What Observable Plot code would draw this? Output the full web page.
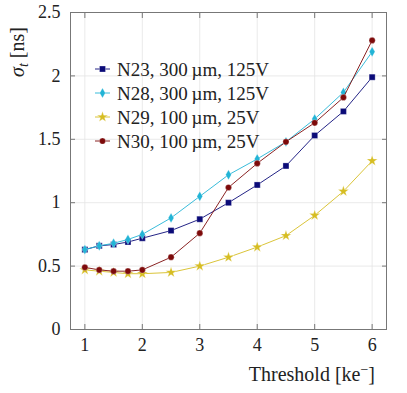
<!DOCTYPE html>
<html><head><meta charset="utf-8">
<script src="https://cdn.jsdelivr.net/npm/d3@7"></script>
<script src="https://cdn.jsdelivr.net/npm/@observablehq/plot@0.6"></script>
<style>
html,body{margin:0;padding:0;background:#fff;}
#wrap{position:relative;width:407px;height:393px;}
#wrap > svg.overlay{position:absolute;left:0;top:0;pointer-events:none;}
</style></head>
<body><div id="wrap"></div>
<script>
const thresholds = [1, 1.25, 1.5, 1.75, 2, 2.5, 3, 3.5, 4, 4.5, 5, 5.5, 6];
const n23 = [0.63, 0.66, 0.67, 0.69, 0.72, 0.78, 0.87, 1.0, 1.14, 1.29, 1.53, 1.72, 1.99];
const n28 = [0.63, 0.66, 0.68, 0.71, 0.75, 0.88, 1.05, 1.22, 1.345, 1.48, 1.66, 1.87, 2.19];
const n29 = [0.47, 0.46, 0.45, 0.44, 0.44, 0.45, 0.50, 0.57, 0.65, 0.74, 0.90, 1.09, 1.33];
const n30 = [0.49, 0.47, 0.46, 0.46, 0.47, 0.57, 0.76, 1.12, 1.31, 1.48, 1.63, 1.83, 2.28];
const seriesNames = ["N23, 300\u2009\u00B5m, 125V", "N28, 300\u2009\u00B5m, 125V", "N29, 100\u2009\u00B5m, 25V", "N30, 100\u2009\u00B5m, 25V"];
const seriesColors = ["#0b0b78", "#22b4d6", "#d6bd22", "#7d0a0a"];
const seriesSymbols = ["square", "diamond", "star", "circle"];
const seriesR = [3.4, 3.0, 3.4, 3.1];
const xTicks = [1, 2, 3, 4, 5, 6];
const yTicks = [0, 0.5, 1, 1.5, 2, 2.5];
const FONT = "'Liberation Serif'";

const allValues = [n23, n28, n29, n30];
const marks = [
  Plot.gridX(xTicks, {stroke: "#e4e4e4", strokeOpacity: 1, strokeWidth: 0.8}),
  Plot.gridY(yTicks, {stroke: "#e4e4e4", strokeOpacity: 1, strokeWidth: 0.8}),
];
allValues.forEach((vals, i) => {
  const data = thresholds.map((t, j) => ({x: t, y: vals[j]}));
  marks.push(Plot.line(data, {x: "x", y: "y", stroke: seriesColors[i], strokeWidth: 0.9}));
  marks.push(Plot.dot(data, {x: "x", y: "y", symbol: () => seriesSymbols[i], r: seriesR[i], fill: seriesColors[i], stroke: "#fff", strokeWidth: 0.3}));
});
marks.push(
  Plot.axisX(xTicks, {anchor: "bottom", tickSize: -5, stroke: "#777", text: null, label: null}),
  Plot.axisX(xTicks, {anchor: "top", tickSize: -5, stroke: "#777", text: null, label: null}),
  Plot.axisY(yTicks, {anchor: "left", tickSize: -5, stroke: "#777", text: null, label: null}),
  Plot.axisY(yTicks, {anchor: "right", tickSize: -5, stroke: "#777", text: null, label: null}),
  Plot.axisX(xTicks, {anchor: "bottom", tickSize: 0, tickPadding: 9, fontSize: 18, fill: "#222", label: null}),
  Plot.axisY(yTicks, {anchor: "left", tickSize: 0, tickPadding: 10, fontSize: 18, fill: "#222", label: null, tickFormat: d => String(d)}),
  Plot.frame({stroke: "#777", strokeWidth: 1})
);

const chart = Plot.plot({
  width: 407, height: 393,
  marginLeft: 70, marginRight: 21, marginTop: 12, marginBottom: 64,
  style: {background: "#fff"},
  x: {domain: [0.75, 6.25], label: null},
  y: {domain: [0, 2.5], label: null},
  marks
});
const wrap = document.getElementById("wrap");
wrap.appendChild(chart);

const ov = d3.select(wrap).append("svg")
  .attr("class", "overlay")
  .attr("width", 407).attr("height", 393).attr("viewBox", "0 0 407 393")
  .attr("font-family", "Liberation Serif").attr("text-anchor", "middle").attr("font-size", 18);

d3.select(chart).selectAll("g[aria-label$='tick label']").each(function() {
  ov.node().appendChild(this);
});

// y label
const yl = ov.append("text")
  .attr("transform", "translate(24,52) rotate(-90)")
  .attr("text-anchor", "middle")
  .attr("font-size", 20).attr("fill", "#222");
yl.append("tspan").attr("font-style", "italic").text("\u03C3");
yl.append("tspan").attr("font-style", "italic").attr("font-size", 14).attr("dy", 4).text("t");
yl.append("tspan").attr("dy", -4).text(" [ns]");
// x label
const xl = ov.append("text")
  .attr("x", 375).attr("y", 381)
  .attr("text-anchor", "end")
  .attr("font-size", 20).attr("fill", "#222");
xl.append("tspan").text("Threshold [ke");
xl.append("tspan").attr("font-size", 14).attr("dy", -7).text("\u2212");
xl.append("tspan").attr("dy", 7).text("]");

// legend
const rowY = [69, 93, 117, 141];
seriesNames.forEach((name, i) => {
  const g = ov.append("g");
  g.append("line").attr("x1", 95).attr("x2", 110).attr("y1", rowY[i]).attr("y2", rowY[i])
    .attr("stroke", seriesColors[i]).attr("stroke-width", 0.9);
  g.append("path").attr("transform", `translate(102.5,${rowY[i]})`)
    .attr("d", d3.symbol({circle: d3.symbolCircle, square: d3.symbolSquare, diamond: d3.symbolDiamond, star: d3.symbolStar}[seriesSymbols[i]], Math.PI * seriesR[i] * seriesR[i])())
    .attr("fill", seriesColors[i]).attr("stroke", "#fff").attr("stroke-width", 0.3);
  g.append("text").attr("x", 117).attr("y", rowY[i]).attr("dy", "0.35em")
    .attr("text-anchor", "start")
    .attr("font-size", 19).attr("fill", "#222").text(name);
});
ov.node().style.setProperty("font-family", FONT, "important");
ov.selectAll("text, tspan").each(function() {
  this.setAttribute("font-family", "Liberation Serif");
  this.style.setProperty("font-family", FONT, "important");
});
</script></body></html>
